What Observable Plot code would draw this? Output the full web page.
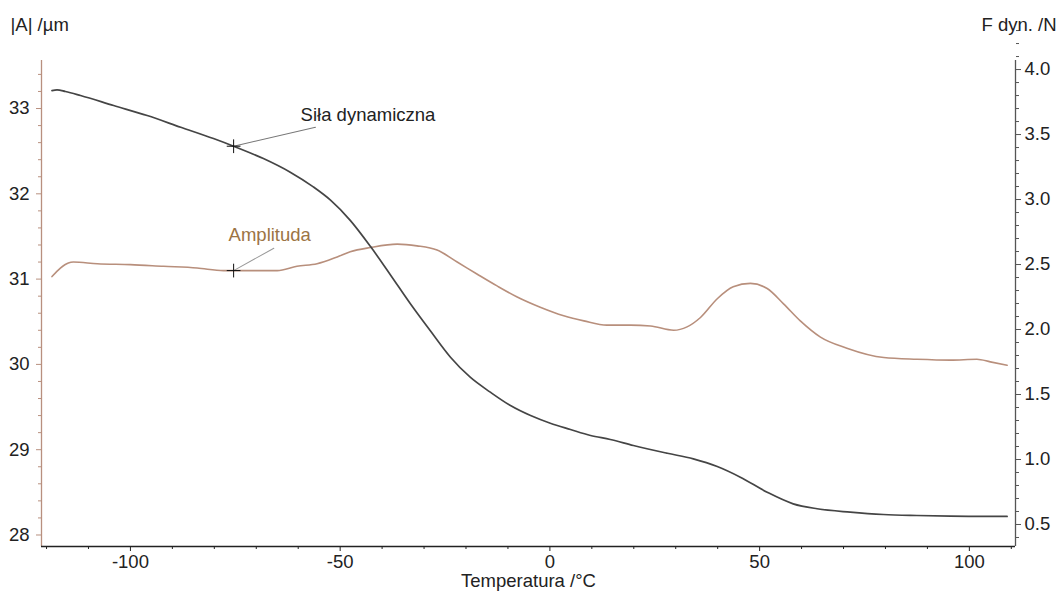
<!DOCTYPE html>
<html><head><meta charset="utf-8">
<script src="https://cdn.jsdelivr.net/npm/d3@7"></script>
<script src="https://cdn.jsdelivr.net/npm/@observablehq/plot@0.6"></script>
<style>body{margin:0;background:#fff;}</style>
</head><body><div id="chart"></div>
<script>
// Siła dynamiczna (F dyn. / N) vs temperature
const tempF = [-118.7,-117.5,-115.5,-111.9,-104,-96,-88,-80.2,-75.4,-68.3,-61.9,-56.4,-52.3,-47.6,-42.8,-38,-33.3,-28.5,-23.7,-19,-14.2,-9.4,-4.6,0.1,4.9,9.7,14.4,19.9,28,34.2,39.9,45.4,51.8,58,63.7,71.6,79.5,87.5,95.5,102.6,109];
const forceN = [3.838,3.844,3.831,3.80,3.723,3.646,3.556,3.469,3.41,3.315,3.21,3.097,2.995,2.84,2.64,2.42,2.20,1.99,1.787,1.633,1.518,1.415,1.338,1.279,1.231,1.185,1.154,1.108,1.048,1.005,0.946,0.864,0.748,0.659,0.621,0.595,0.577,0.569,0.564,0.562,0.562];
// Amplituda (|A| / µm) vs temperature
const tempA = [-118.7,-116.7,-114.8,-113.6,-107.9,-100,-92.1,-84.1,-77.8,-75.4,-68.3,-65,-60.3,-55.5,-50.7,-47.6,-42.8,-36.4,-31.7,-26.9,-22.1,-17.4,-12.6,-7.8,-2.3,3.3,8.1,13.6,19.2,24,29.5,32.7,35.9,39.9,43.7,47.8,51.8,55.7,59.7,64.5,70.8,79.6,87.5,95.5,101.8,105,109];
const ampUm = [31.03,31.13,31.19,31.20,31.18,31.17,31.15,31.13,31.10,31.10,31.10,31.10,31.15,31.18,31.26,31.32,31.37,31.41,31.39,31.34,31.20,31.06,30.92,30.79,30.67,30.57,30.51,30.46,30.46,30.45,30.40,30.44,30.55,30.77,30.91,30.95,30.89,30.71,30.51,30.32,30.19,30.08,30.06,30.05,30.06,30.03,29.99];

const xTicks = [-100,-50,0,50,100];
const yTicksA = [28,29,30,31,32,33];
const yTicksF = [0.5,1.0,1.5,2.0,2.5,3.0,3.5,4.0];
const xDomain = [-121.2, 111];
const yDomainA = [27.865, 33.563];
const annotTemp = -75.4;
const labelF = "Siła dynamiczna";
const labelA = "Amplituda";
const titleX = "Temperatura /°C";
const titleYLeft = "|A| /µm";
const titleYRight = "F dyn. /N";

// mapping between the right (F) axis and the left (A) axis
const aFromF = f => 27.361 + 1.524 * f;
const fFromA = a => (a - 27.361) / 1.524;

const forceSeries = tempF.map((t, i) => ({T: t, A: aFromF(forceN[i])}));
const ampSeries = tempA.map((t, i) => ({T: t, A: ampUm[i]}));
const markF = forceSeries[tempF.indexOf(annotTemp)];
const markA = ampSeries[tempA.indexOf(annotTemp)];

const xMinor = d3.range(-120, 111, 10).filter(v => v % 50 !== 0);
const yMinorA = d3.range(28.2, 33.5, 0.2).filter(v => Math.abs(v - Math.round(v)) > 1e-6);
const yMinorF = d3.range(4, 44, 1).map(v => v / 10).filter(v => (v * 10) % 5 !== 0).map(aFromF);

const brownAxis = "#b8907f";
const font = "'Liberation Sans', Arial, sans-serif";
const fmt = d => (d < 0 ? "-" + Math.abs(d) : String(d));

const chart = Plot.plot({
  width: 1057, height: 592,
  marginLeft: 41, marginRight: 42, marginTop: 60, marginBottom: 46,
  style: {fontFamily: font, fontSize: "18.5px", background: "#fff", color: "#222"},
  x: {domain: xDomain, axis: null},
  y: {domain: yDomainA, axis: null},
  marks: [
    // axis lines
    Plot.ruleX([xDomain[0]], {stroke: brownAxis, strokeWidth: 1.3}),
    Plot.ruleX([xDomain[1]], {stroke: "#555", strokeWidth: 1.3}),
    Plot.ruleY([yDomainA[0]], {stroke: "#222", strokeWidth: 1.3}),
    // bottom axis
    Plot.axisX(xTicks, {anchor: "bottom", tickSize: 5, tickPadding: 3, stroke: "#222", fill: "#222", label: null, tickFormat: fmt}),
    Plot.axisX(xMinor, {anchor: "bottom", tickSize: 3, stroke: "#222", label: null, tickFormat: () => ""}),
    // left axis
    Plot.axisY(yTicksA, {anchor: "left", tickSize: 5, tickPadding: 7, stroke: brownAxis, fill: "#222", label: null, tickFormat: d => String(d)}),
    Plot.axisY(yMinorA, {anchor: "left", tickSize: 3, stroke: brownAxis, label: null, tickFormat: () => ""}),
    // right axis
    Plot.axisY(yTicksF.map(aFromF), {anchor: "right", tickSize: 5, tickPadding: 4, stroke: "#555", fill: "#222", label: null, tickFormat: a => fFromA(a).toFixed(1)}),
    Plot.axisY(yMinorF, {anchor: "right", tickSize: 3, stroke: "#555", label: null, tickFormat: () => ""}),
    // titles
    Plot.text([titleYLeft], {frameAnchor: "top-left", lineAnchor: "middle", dx: -31, dy: -35, textAnchor: "start", fill: "#222"}),
    Plot.text([titleYRight], {frameAnchor: "top-right", lineAnchor: "middle", dx: 41, dy: -35, textAnchor: "end", fill: "#222"}),
    Plot.text([titleX], {frameAnchor: "bottom", lineAnchor: "middle", dy: 35, fill: "#222"}),
    // series
    Plot.line(ampSeries, {x: "T", y: "A", stroke: "#b88f7c", strokeWidth: 1.6, curve: "monotone-x"}),
    Plot.line(forceSeries, {x: "T", y: "A", stroke: "#454545", strokeWidth: 1.7, curve: "monotone-x"}),
    // annotations
    Plot.vector([markF], {x: "T", y: "A", length: 84, rotate: 77, anchor: "start", shape: "spike", r: 0, stroke: "#777", fill: "none", strokeWidth: 1}),
    Plot.vector([markA], {x: "T", y: "A", length: 46, rotate: 61, anchor: "start", shape: "spike", r: 0, stroke: "#999", fill: "none", strokeWidth: 1}),
    Plot.dot([markF, markA], {x: "T", y: "A", symbol: "plus", r: 4.5, stroke: "#111", strokeWidth: 1}),
    Plot.text([markF], {x: "T", y: "A", text: () => labelF, dx: 67, dy: -31, textAnchor: "start", fill: "#222"}),
    Plot.text([markA], {x: "T", y: "A", text: () => labelA, dx: -5, dy: -35, textAnchor: "start", fill: "#9c7444"})
  ]
});
document.getElementById("chart").appendChild(chart);
</script>
</body></html>
